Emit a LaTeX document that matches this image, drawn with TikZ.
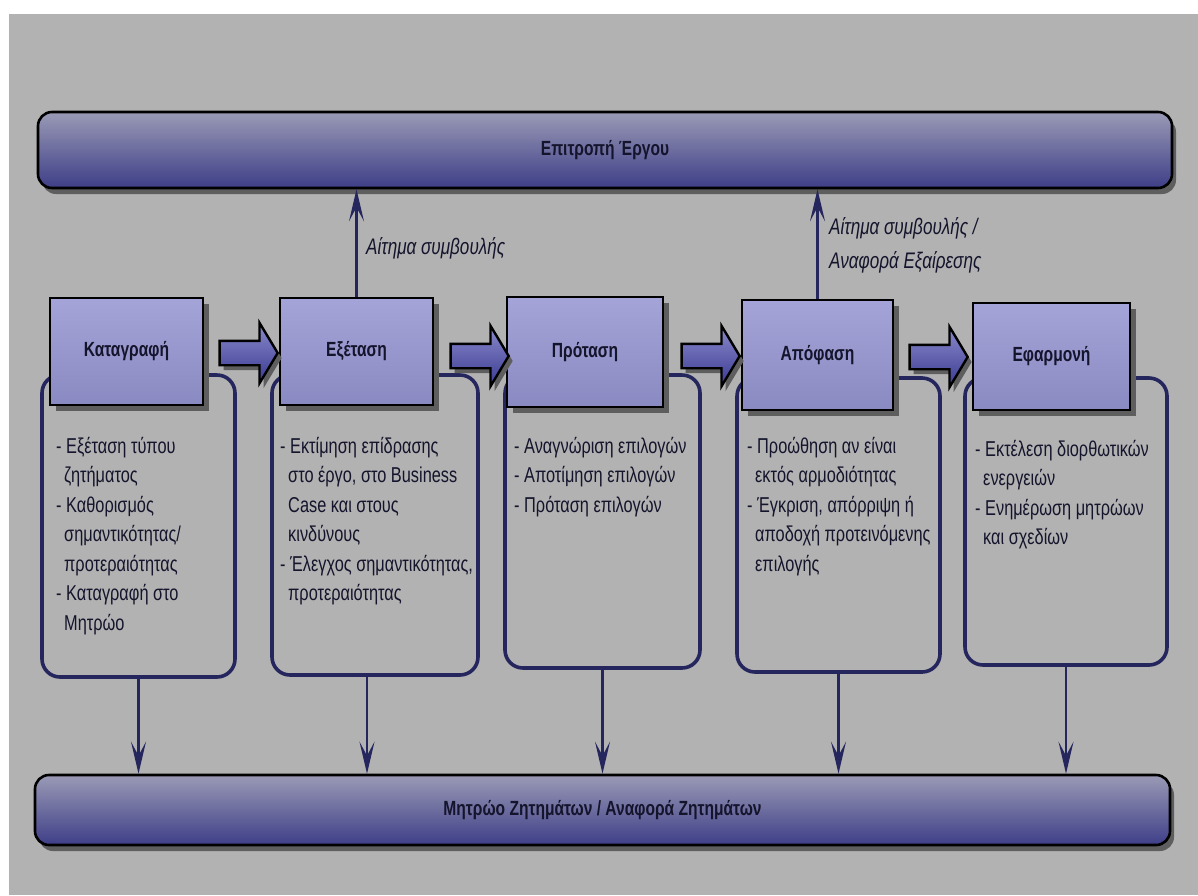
\documentclass[tikz,border=0pt]{standalone}
\usepackage{fontspec}
\setmainfont{Liberation Sans}[FakeStretch=0.76]
\usetikzlibrary{shapes.arrows,shadows,arrows.meta,calc}

\definecolor{bggray}{HTML}{B2B2B2}
\definecolor{navy}{HTML}{26265E}
\definecolor{lavtop}{HTML}{A4A4D8}
\definecolor{lavbot}{HTML}{8A8AC2}
\definecolor{bartop}{HTML}{9A9AB6}
\definecolor{barbot}{HTML}{3E3E88}
\definecolor{arrtop}{HTML}{8A8ACC}
\definecolor{arrbot}{HTML}{3A3A92}
\definecolor{shadowgray}{HTML}{5E5E5E}
\definecolor{inktext}{HTML}{14142C}

\begin{document}
\begin{tikzpicture}[x=1pt,y=-1pt,
  bar/.style={draw=black, line width=2.6pt, rounded corners=14pt,
    top color=bartop, bottom color=barbot, text=inktext,
    font=\fontsize{20.5}{24}\selectfont\bfseries,
    drop shadow={shadow xshift=4pt, shadow yshift=-6pt, fill=shadowgray, opacity=1}},
  header/.style={draw=black, line width=2.8pt, top color=lavtop, bottom color=lavbot,
    text=inktext, font=\fontsize{20.5}{24}\selectfont\bfseries,
    drop shadow={shadow xshift=6pt, shadow yshift=-6pt, fill=shadowgray, opacity=1}},
  detail/.style={draw=navy, line width=3.6pt, rounded corners=18pt},
  detailtext/.style={anchor=north west, inner sep=0pt, align=left, text=inktext,
    font=\fontsize{21.5}{29.5}\selectfont},
  blockarrow/.style={single arrow, draw=black, line width=2.4pt,
    top color=arrtop, bottom color=arrbot, inner xsep=0pt, inner ysep=11pt,
    minimum height=58pt, single arrow head extend=18pt, single arrow tip angle=118,
    drop shadow={shadow xshift=4pt, shadow yshift=-5pt, fill=shadowgray, opacity=1}},
  flow/.style={draw=navy, line width=2.4pt,
    -{Stealth[length=32pt, width=15pt, inset=14pt]}},
  lbl/.style={anchor=west, inner sep=0pt, align=left, text=inktext,
    font=\fontsize{22.5}{34}\selectfont\itshape}
]
\useasboundingbox (0,0) rectangle (1198,895);
% page and panel background
\fill[white] (0,0) rectangle (1198,895);
\fill[bggray] (9,14) rectangle (1198,895);

% committee bar and issue register bar
\node[bar, minimum width=1134pt, minimum height=76pt] (top) at (605,150) {Επιτροπή Έργου};
\node[bar, minimum width=1135pt, minimum height=70pt] (bot) at (602.5,810) {Μητρώο Ζητημάτων / Αναφορά Ζητημάτων};

% rounded activity frames
\node[detail, minimum width=193pt, minimum height=302pt] (d1) at (138.5,526) {};
\node[detail, minimum width=206pt, minimum height=300pt] (d2) at (375,525) {};
\node[detail, minimum width=195pt, minimum height=293pt] (d3) at (602.5,521.5) {};
\node[detail, minimum width=203pt, minimum height=294pt] (d4) at (838.5,525) {};
\node[detail, minimum width=202pt, minimum height=287pt] (d5) at (1066,521.5) {};

% step headers
\node[header, minimum width=153pt, minimum height=107pt] (h1) at (126.5,351.5) {\raisebox{-5pt}{Καταγραφή}};
\node[header, minimum width=153pt, minimum height=107pt] (h2) at (356.5,351.5) {\raisebox{-5pt}{Εξέταση}};
\node[header, minimum width=156pt, minimum height=110pt] (h3) at (585,352) {\raisebox{-4pt}{Πρόταση}};
\node[header, minimum width=151pt, minimum height=110pt] (h4) at (817.5,355) {\raisebox{-2pt}{Απόφαση}};
\node[header, minimum width=157pt, minimum height=107pt] (h5) at (1051.5,356.5) {\raisebox{-5pt}{Εφαρμονή}};

% block arrows between steps
\node[blockarrow] (a1) at (245,353) {};
\node[blockarrow] (a2) at (476,356) {};
\node[blockarrow] (a3) at (707,356) {};
\node[blockarrow] (a4) at (935,357) {};

% activity lists
\node[detailtext] (t1) at (56,437) {- Εξέταση τύπου\\\hspace*{8pt}ζητήματος\\- Καθορισμός\\\hspace*{8pt}σημαντικότητας/\\\hspace*{8pt}προτεραιότητας\\- Καταγραφή στο\\\hspace*{8pt}Μητρώο};
\node[detailtext] (t2) at (280,437) {- Εκτίμηση επίδρασης\\\hspace*{8pt}στο έργο, στο Business\\\hspace*{8pt}Case και στους\\\hspace*{8pt}κινδύνους\\- Έλεγχος σημαντικότητας,\\\hspace*{8pt}προτεραιότητας};
\node[detailtext] (t3) at (514,437) {- Αναγνώριση επιλογών\\- Αποτίμηση επιλογών\\- Πρόταση επιλογών};
\node[detailtext] (t4) at (747,437) {- Προώθηση αν είναι\\\hspace*{8pt}εκτός αρμοδιότητας\\- Έγκριση, απόρριψη ή\\\hspace*{8pt}αποδοχή προτεινόμενης\\\hspace*{8pt}επιλογής};
\node[detailtext] (t5) at (975,440) {- Εκτέλεση διορθωτικών\\\hspace*{8pt}ενεργειών\\- Ενημέρωση μητρώων\\\hspace*{8pt}και σχεδίων};

% escalations to the committee
\draw[flow] (h2.north) -- (h2.north |- top.south);
\draw[flow] (h4.north) -- (h4.north |- top.south);
\node[lbl] (l1) at (366,248) {Αίτημα συμβουλής};
\node[lbl] (l2) at (829,245) {Αίτημα συμβουλής /\\Αναφορά Εξαίρεσης};

% updates to the issue register
\coordinate (s2) at ([xshift=-8pt]d2.south);
\draw[flow] (d1.south) -- (d1.south |- bot.north);
\draw[flow] (s2) -- (s2 |- bot.north);
\draw[flow] (d3.south) -- (d3.south |- bot.north);
\draw[flow] (d4.south) -- (d4.south |- bot.north);
\draw[flow] (d5.south) -- (d5.south |- bot.north);
\end{tikzpicture}
\end{document}
